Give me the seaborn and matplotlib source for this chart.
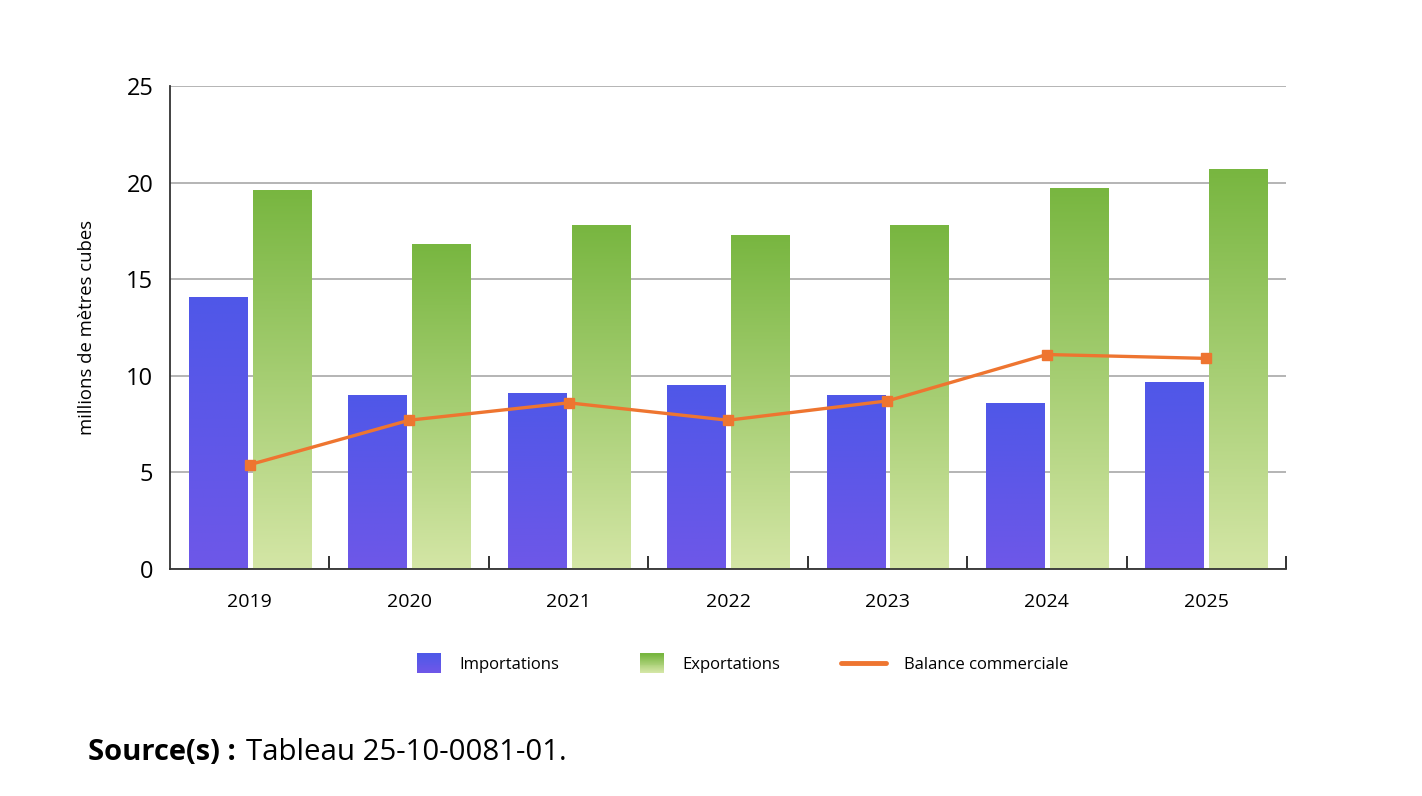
import numpy as np
import pandas as pd
import matplotlib
matplotlib.use("Agg")
import matplotlib.pyplot as plt
import seaborn as sns
from matplotlib.colors import LinearSegmentedColormap
from matplotlib.lines import Line2D
from matplotlib.patches import Patch, Rectangle
from matplotlib.legend_handler import HandlerBase

annees = ["2019", "2020", "2021", "2022", "2023", "2024", "2025"]
importations = [14.1, 9.0, 9.1, 9.5, 9.0, 8.6, 9.7]
exportations = [19.6, 16.8, 17.8, 17.3, 17.8, 19.7, 20.7]
balance = [5.4, 7.7, 8.6, 7.7, 8.7, 11.1, 10.9]

df = pd.DataFrame({
    "annee": annees * 2,
    "valeur": importations + exportations,
    "serie": ["Importations"] * len(annees) + ["Exportations"] * len(annees),
})

grad_imp = LinearSegmentedColormap.from_list("imp", ["#6e57e8", "#4f58e8"])
grad_exp = LinearSegmentedColormap.from_list("exp", ["#d4e6a6", "#78b640"])


class HandlerGradient(HandlerBase):
    # carré en dégradé, aligné à droite de la zone de la clé
    def __init__(self, cmap):
        super().__init__()
        self.cmap = cmap

    def create_artists(self, legend, orig_handle, xdescent, ydescent,
                       width, height, fontsize, trans):
        side = width * 0.55
        x0 = -xdescent + width - side
        y0 = -ydescent - height * 0.15
        h = height * 1.3
        k = 20
        arts = []
        for j in range(k):
            r = Rectangle((x0, y0 + h * j / k), side, h / k + 0.3,
                          facecolor=self.cmap(j / (k - 1)), edgecolor="none",
                          transform=trans)
            arts.append(r)
        return arts


sns.set_theme(style="white")
plt.rcParams["font.family"] = ["Open Sans", "DejaVu Sans"]
plt.rcParams["text.color"] = "black"
plt.rcParams["axes.labelcolor"] = "black"
plt.rcParams["xtick.color"] = "black"
plt.rcParams["ytick.color"] = "black"

fig = plt.figure(figsize=(14.22, 7.96), dpi=100)
ax = fig.add_axes([0.1196, 0.2852, 0.7848, 0.6068])

sns.barplot(data=df, x="annee", y="valeur", hue="serie", ax=ax,
            palette=["#5a57e8", "#a8d078"], width=0.8, gap=0.09,
            legend=False, zorder=2)

# degradés dans les barres
grad = np.linspace(0, 1, 256).reshape(-1, 1)
n = len(annees)
for i, bar in enumerate(ax.patches[:2 * n]):
    x0, y0 = bar.get_x(), bar.get_y()
    w, h = bar.get_width(), bar.get_height()
    cmap = grad_imp if i < n else grad_exp
    img = ax.imshow(grad, cmap=cmap, aspect="auto", origin="lower",
                    extent=[x0, x0 + w, y0, y0 + h], zorder=2.5)
    img.set_clip_path(bar)
    bar.set_edgecolor("none")

ax.plot(range(n), balance, color="#ee7530", lw=2.4, marker="s",
        markersize=6.5, zorder=4)

ax.set_xlim(-0.5, n - 0.5)
ax.set_ylim(0, 25)
ax.set_yticks([0, 5, 10, 15, 20, 25])
ax.yaxis.grid(True, color="#a0a0a0", lw=1.1, zorder=0)
ax.set_axisbelow(True)
for s in ["top", "right"]:
    ax.spines[s].set_visible(False)
for s in ["left", "bottom"]:
    ax.spines[s].set_color("#333333")
    ax.spines[s].set_linewidth(1.3)

ax.set_xlabel("")
ax.set_ylabel("millions de mètres cubes", fontsize=13.3, labelpad=22)
ax.tick_params(axis="y", labelsize=17, length=0, pad=12)
ax.tick_params(axis="x", which="major", labelsize=14, length=0, pad=17)
ax.set_xticks(np.arange(0.5, n, 1), minor=True)
ax.tick_params(axis="x", which="minor", bottom=True, direction="in",
               length=9.5, width=1.3, color="#222222")

imp_handle = Patch(facecolor="#5a57e8", label="Importations")
exp_handle = Patch(facecolor="#a8d078", label="Exportations")
bal_handle = Line2D([0], [0], color="#ee7530", lw=3.5,
                    solid_capstyle="round", label="Balance commerciale")
fig.legend(handles=[imp_handle, exp_handle, bal_handle],
           handler_map={imp_handle: HandlerGradient(grad_imp),
                        exp_handle: HandlerGradient(grad_exp)},
           loc="center", bbox_to_anchor=(0.515, 0.165),
           ncol=3, frameon=False, fontsize=12, handlelength=2.7,
           handleheight=1.0, handletextpad=1.1, columnspacing=3.6)

fig.text(0.062, 0.055, "Source(s) :", fontsize=21, fontweight="bold",
         ha="left", va="center")
fig.text(0.173, 0.055, "Tableau 25-10-0081-01.", fontsize=21.2,
         ha="left", va="center")

fig.savefig("out.png", dpi=100)
